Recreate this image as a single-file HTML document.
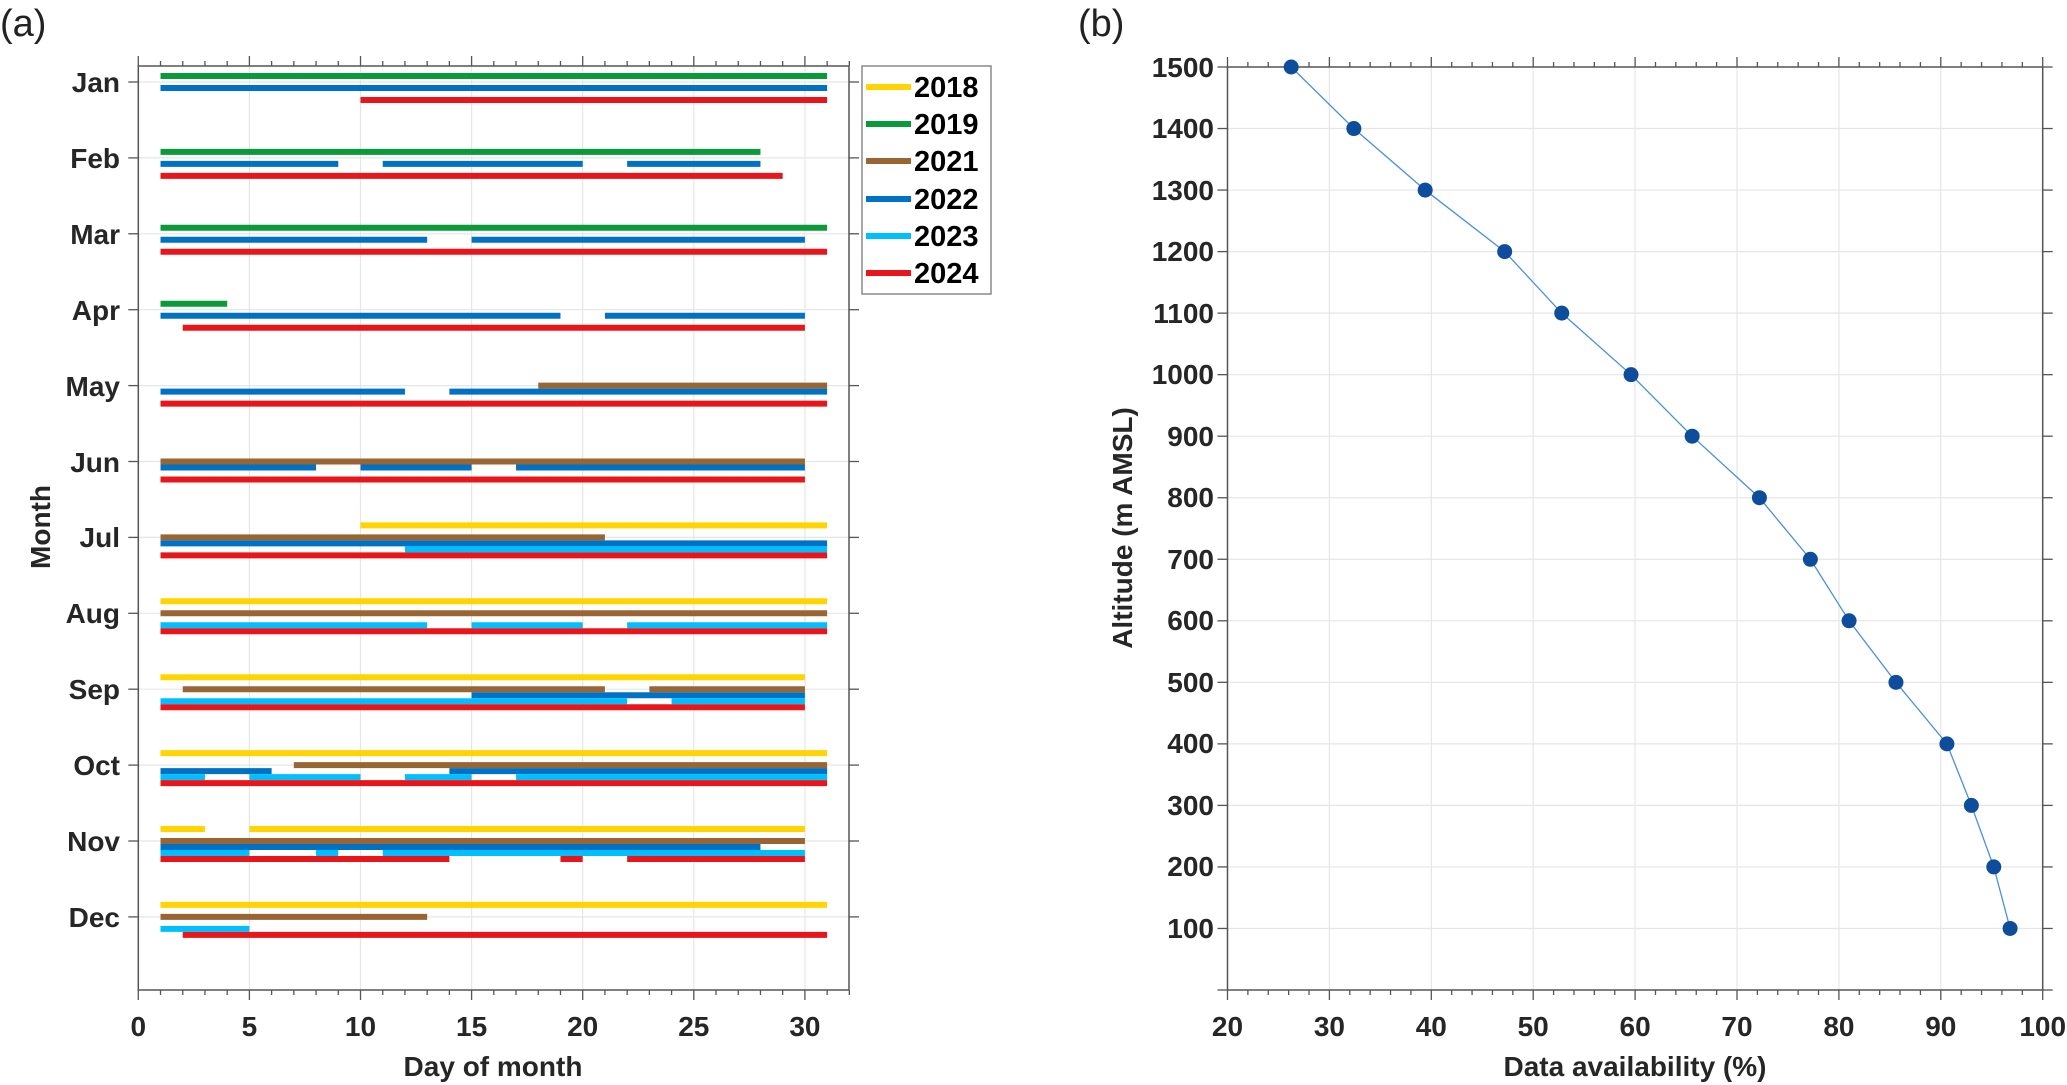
<!DOCTYPE html>
<html><head><meta charset="utf-8">
<style>
html,body{margin:0;padding:0;background:#fff;}
svg{display:block;font-family:"Liberation Sans",Arial,sans-serif;}
.t{font-weight:bold;font-size:28px;fill:#262626;}
</style></head>
<body>
<svg id="s" width="2067" height="1085" viewBox="0 0 2067 1085" xmlns="http://www.w3.org/2000/svg">
<rect width="2067" height="1085" fill="#fff"/>
<g id="ga"></g>
<g id="gb"></g>
<text x="0" y="36" font-size="38" fill="#222">(a)</text>
<text x="1078" y="36" font-size="38" fill="#222">(b)</text>
<g class="t" text-anchor="end">
<text x="120" y="92">Jan</text>
<text x="120" y="168">Feb</text>
<text x="120" y="244">Mar</text>
<text x="120" y="320">Apr</text>
<text x="120" y="396">May</text>
<text x="120" y="472">Jun</text>
<text x="120" y="547">Jul</text>
<text x="120" y="623">Aug</text>
<text x="120" y="699">Sep</text>
<text x="120" y="775">Oct</text>
<text x="120" y="851">Nov</text>
<text x="120" y="927">Dec</text>
</g>
<g class="t" text-anchor="middle">
<text x="138.3" y="1036">0</text>
<text x="249.4" y="1036">5</text>
<text x="360.5" y="1036">10</text>
<text x="471.6" y="1036">15</text>
<text x="582.7" y="1036">20</text>
<text x="693.8" y="1036">25</text>
<text x="804.9" y="1036">30</text>
<text x="493" y="1076">Day of month</text>
<text transform="translate(50,527) rotate(-90)">Month</text>
</g>
<rect x="862" y="66" width="129" height="228" fill="#fff" stroke="#8a8a8a" stroke-width="1.5"/>
<g stroke-width="6">
<line x1="866" y1="87" x2="911" y2="87" stroke="#FFD400"/>
<line x1="866" y1="124" x2="911" y2="124" stroke="#0A9A3A"/>
<line x1="866" y1="161" x2="911" y2="161" stroke="#996633"/>
<line x1="866" y1="199" x2="911" y2="199" stroke="#0072C6"/>
<line x1="866" y1="236" x2="911" y2="236" stroke="#00BFFF"/>
<line x1="866" y1="273" x2="911" y2="273" stroke="#E8161B"/>
</g>
<g font-weight="bold" font-size="29" fill="#000">
<text x="914" y="97">2018</text>
<text x="914" y="134">2019</text>
<text x="914" y="171">2021</text>
<text x="914" y="209">2022</text>
<text x="914" y="246">2023</text>
<text x="914" y="283">2024</text>
</g>
<g class="t" text-anchor="end">
<text x="1214" y="77">1500</text>
<text x="1214" y="138">1400</text>
<text x="1214" y="200">1300</text>
<text x="1214" y="261">1200</text>
<text x="1214" y="323">1100</text>
<text x="1214" y="384">1000</text>
<text x="1214" y="446">900</text>
<text x="1214" y="507">800</text>
<text x="1214" y="569">700</text>
<text x="1214" y="630">600</text>
<text x="1214" y="692">500</text>
<text x="1214" y="753">400</text>
<text x="1214" y="815">300</text>
<text x="1214" y="876">200</text>
<text x="1214" y="938">100</text>
</g>
<g class="t" text-anchor="middle">
<text x="1227.5" y="1036">20</text>
<text x="1329.4" y="1036">30</text>
<text x="1431.3" y="1036">40</text>
<text x="1533.2" y="1036">50</text>
<text x="1635.1" y="1036">60</text>
<text x="1737" y="1036">70</text>
<text x="1838.9" y="1036">80</text>
<text x="1940.8" y="1036">90</text>
<text x="2042.7" y="1036">100</text>
<text x="1635" y="1076">Data availability (%)</text>
<text transform="translate(1132,528) rotate(-90)">Altitude (m AMSL)</text>
</g>
</svg>
<script>
(function(){
var NS="http://www.w3.org/2000/svg";
function el(p,n,a){var e=document.createElementNS(NS,n);for(var k in a)e.setAttribute(k,a[k]);p.appendChild(e);return e;}
var ga=document.getElementById("ga"), gb=document.getElementById("gb");
var L=138.3,R=849,T=66,B=990,D=22.22;
function X(d){return L+D*d;}
function MY(m){return 82+75.9*(m-1);}
for(var d=5;d<=30;d+=5) el(ga,"line",{x1:X(d),y1:T,x2:X(d),y2:B,stroke:"#e6e6e6","stroke-width":1.2});
for(var m=1;m<=12;m++) el(ga,"line",{x1:L,y1:MY(m),x2:R,y2:MY(m),stroke:"#e6e6e6","stroke-width":1.2});
var col={2018:"#FFD400",2019:"#0A9A3A",2021:"#996633",2022:"#0072C6",2023:"#00BFFF",2024:"#E8161B"};
var off={2018:-12,2019:-6,2021:0,2022:6,2023:12,2024:18};
var data={
1:{2019:[[1,31]],2022:[[1,31]],2024:[[10,31]]},
2:{2019:[[1,28]],2022:[[1,9],[11,20],[22,28]],2024:[[1,29]]},
3:{2019:[[1,31]],2022:[[1,13],[15,30]],2024:[[1,31]]},
4:{2019:[[1,4]],2022:[[1,19],[21,30]],2024:[[2,30]]},
5:{2021:[[18,31]],2022:[[1,12],[14,31]],2024:[[1,31]]},
6:{2021:[[1,30]],2022:[[1,8],[10,15],[17,30]],2024:[[1,30]]},
7:{2018:[[10,31]],2021:[[1,21]],2022:[[1,31]],2023:[[12,31]],2024:[[1,31]]},
8:{2018:[[1,31]],2021:[[1,31]],2023:[[1,13],[15,20],[22,31]],2024:[[1,31]]},
9:{2018:[[1,30]],2021:[[2,21],[23,30]],2022:[[15,30]],2023:[[1,22],[24,30]],2024:[[1,30]]},
10:{2018:[[1,31]],2021:[[7,31]],2022:[[1,6],[14,31]],2023:[[1,3],[5,10],[12,15],[17,31]],2024:[[1,31]]},
11:{2018:[[1,3],[5,30]],2021:[[1,30]],2022:[[1,28]],2023:[[1,5],[8,9],[11,30]],2024:[[1,14],[19,20],[22,30]]},
12:{2018:[[1,31]],2021:[[1,13]],2023:[[1,5]],2024:[[2,31]]}};
var yrs=[2018,2019,2021,2022,2023,2024];
for(var m=1;m<=12;m++){for(var i=0;i<yrs.length;i++){var y=yrs[i],s=data[m][y];if(!s)continue;
 s.forEach(function(r){var yy=MY(m)+off[y];el(ga,"line",{x1:X(r[0]),y1:yy,x2:X(r[1]),y2:yy,stroke:col[y],"stroke-width":6});});}}
el(ga,"rect",{x:L,y:T,width:R-L,height:B-T,fill:"none",stroke:"#555","stroke-width":1.5});
for(var d=0;d<=32;d++){var len=(d%5==0)?10:5;
 el(ga,"line",{x1:X(d),y1:B,x2:X(d),y2:B+len,stroke:"#555","stroke-width":1.3});
 el(ga,"line",{x1:X(d),y1:T,x2:X(d),y2:T-len,stroke:"#555","stroke-width":1.3});}
for(var m=1;m<=12;m++){el(ga,"line",{x1:L-10,y1:MY(m),x2:L,y2:MY(m),stroke:"#555","stroke-width":1.3});
 el(ga,"line",{x1:R,y1:MY(m),x2:R+10,y2:MY(m),stroke:"#555","stroke-width":1.3});}
var bL=1227.5,bR=2042.7,bT=67,bB=990;
function BX(v){return bL+(v-20)*(bR-bL)/80;}
function BY(a){return bB-(a)*(bB-bT)/1500;}
for(var v=30;v<100;v+=10) el(gb,"line",{x1:BX(v),y1:bT,x2:BX(v),y2:bB,stroke:"#e6e6e6","stroke-width":1.2});
for(var a=100;a<1500;a+=100) el(gb,"line",{x1:bL,y1:BY(a),x2:bR,y2:BY(a),stroke:"#e6e6e6","stroke-width":1.2});
el(gb,"rect",{x:bL,y:bT,width:bR-bL,height:bB-bT,fill:"none",stroke:"#555","stroke-width":1.5});
for(var v=20;v<=100;v+=2){var len=(v%10==0)?10:5;
 el(gb,"line",{x1:BX(v),y1:bB,x2:BX(v),y2:bB+len,stroke:"#555","stroke-width":1.3});
 el(gb,"line",{x1:BX(v),y1:bT,x2:BX(v),y2:bT-len,stroke:"#555","stroke-width":1.3});}
for(var a=0;a<=1500;a+=100){el(gb,"line",{x1:bL-10,y1:BY(a),x2:bL,y2:BY(a),stroke:"#555","stroke-width":1.3});
 el(gb,"line",{x1:bR,y1:BY(a),x2:bR+10,y2:BY(a),stroke:"#555","stroke-width":1.3});}
var px=[26.25,32.4,39.4,47.2,52.8,59.6,65.6,72.2,77.2,81.0,85.6,90.6,93.0,95.2,96.8];
var pts=px.map(function(v,i){return BX(v)+","+BY(1500-100*i);}).join(" ");
el(gb,"polyline",{points:pts,fill:"none",stroke:"#4A90D9","stroke-width":1.3});
px.forEach(function(v,i){el(gb,"circle",{cx:BX(v),cy:BY(1500-100*i),r:7.5,fill:"#0E4C9C"});});
})();
</script>
</body></html>
